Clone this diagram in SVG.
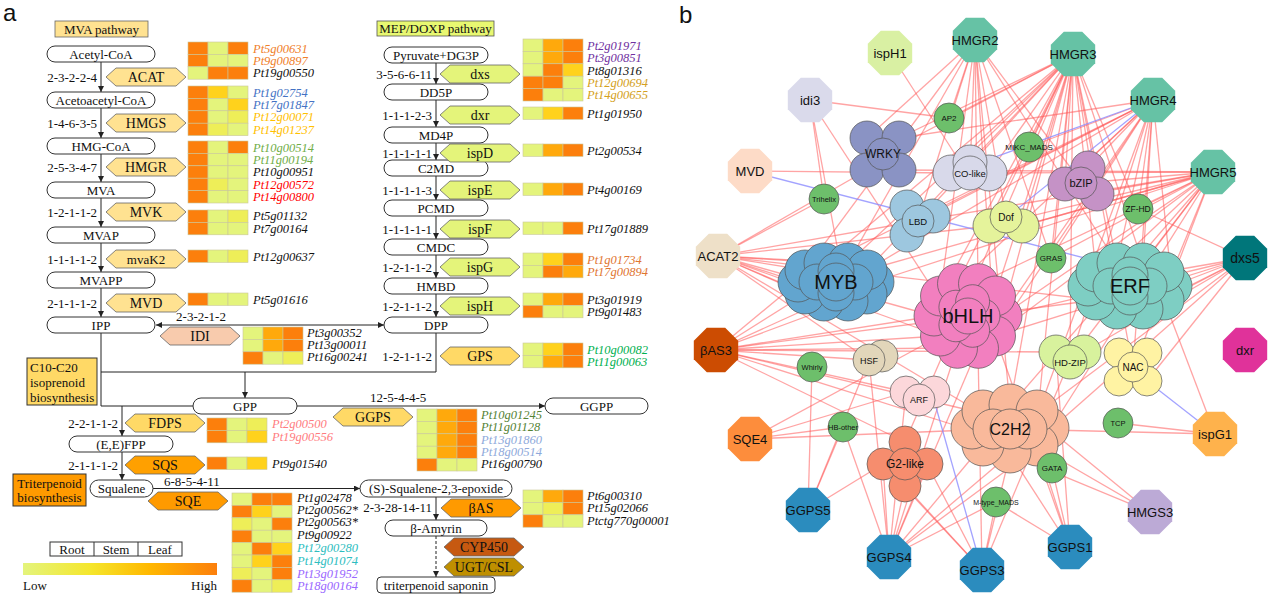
<svg xmlns="http://www.w3.org/2000/svg" xmlns:xlink="http://www.w3.org/1999/xlink" width="1269" height="597" viewBox="0 0 1269 597">
<style>
.t{font-family:"Liberation Serif",serif;font-size:13px;fill:#111}
.tm{text-anchor:middle}
.te{text-anchor:end}
.hxt{font-size:14px}
.g{font-family:"Liberation Serif",serif;font-size:12.5px;font-style:italic;fill:#111}
.bx{fill:#fff;stroke:#333;stroke-width:1}
.ln{stroke:#222;stroke-width:1;fill:none}
.hx{stroke:#666;stroke-width:.8}
.hm rect{stroke:#c9c79a;stroke-width:.6;width:20px;height:12.4px}
.k0{fill:#E4F47C}.k1{fill:#EEEE58}.k2{fill:#FFD21C}.k3{fill:#FFA90C}.k4{fill:#FC7F0C}
.n{font-family:"Liberation Sans",Arial,sans-serif;text-anchor:middle;fill:#111;font-size:13px}
.s7{font-size:7px}.s75{font-size:7.5px}.s8{font-size:8px}.s85{font-size:8.5px}.s9{font-size:9px}.s95{font-size:9.5px}.s10{font-size:10px}.s11{font-size:11px}.s12{font-size:12px}.s14{font-size:14px}.s16{font-size:16px}.s20{font-size:20px}
.tf{stroke:#555;stroke-width:.7}
.gr{fill:#6DBF6B}
.e line{stroke:#FF5A5A;stroke-opacity:.55;stroke-width:1.3}
.e line.b{stroke:#8C8CFF;stroke-opacity:.8}
</style>
<defs>
<marker id="ar" markerWidth="6" markerHeight="6" refX="6" refY="3" orient="auto-start-reverse" markerUnits="userSpaceOnUse"><path d="M0,0 L6,3 L0,6 z" fill="#222"/></marker>
<polygon id="hex" points="0,9 10,0 70,0 80,9 70,18 10,18"/>
<polygon id="oct" points="-9.2,-22.2 9.2,-22.2 22.2,-9.2 22.2,9.2 9.2,22.2 -9.2,22.2 -22.2,9.2 -22.2,-9.2"/>
<linearGradient id="lg"><stop offset="0" stop-color="#E4F47C"/><stop offset=".35" stop-color="#F5E62C"/><stop offset=".65" stop-color="#FFB800"/><stop offset="1" stop-color="#FC7F0C"/></linearGradient>
</defs>
<rect width="1269" height="597" fill="#fff"/>
<text x="3" y="21" font-family="Liberation Sans,Arial,sans-serif" font-size="24" fill="#111">a</text>
<text x="679" y="23" font-family="Liberation Sans,Arial,sans-serif" font-size="24" fill="#111">b</text>

<!-- ===== Panel a connectors ===== -->
<g id="a-connectors" class="ln">
<line x1="101" y1="62" x2="101" y2="92" marker-end="url(#ar)"/>
<line x1="101" y1="108" x2="101" y2="138" marker-end="url(#ar)"/>
<line x1="101" y1="154" x2="101" y2="182" marker-end="url(#ar)"/>
<line x1="101" y1="198" x2="101" y2="227" marker-end="url(#ar)"/>
<line x1="101" y1="243" x2="101" y2="272" marker-end="url(#ar)"/>
<line x1="101" y1="288" x2="101" y2="317" marker-end="url(#ar)"/>
<line x1="436" y1="63" x2="436" y2="84" marker-end="url(#ar)"/>
<line x1="436" y1="100" x2="436" y2="127" marker-end="url(#ar)"/>
<line x1="436" y1="143" x2="436" y2="160" marker-end="url(#ar)"/>
<line x1="436" y1="176" x2="436" y2="200" marker-end="url(#ar)"/>
<line x1="436" y1="216" x2="436" y2="239" marker-end="url(#ar)"/>
<line x1="436" y1="255" x2="436" y2="278" marker-end="url(#ar)"/>
<line x1="436" y1="294" x2="436" y2="317" marker-end="url(#ar)"/>
<line x1="156" y1="325" x2="384" y2="325" marker-start="url(#ar)" marker-end="url(#ar)"/>
<polyline points="101,333 101,406 193,406"/>
<polyline points="101,372 436,372 436,333"/>
<line x1="245" y1="372" x2="245" y2="398" marker-end="url(#ar)"/>
<line x1="297" y1="406" x2="545" y2="406" marker-end="url(#ar)"/>
<line x1="122" y1="406" x2="122" y2="436" marker-end="url(#ar)"/>
<line x1="122" y1="452" x2="122" y2="480" marker-end="url(#ar)"/>
<line x1="153" y1="488.5" x2="360" y2="488.5" marker-end="url(#ar)"/>
<line x1="436" y1="497" x2="436" y2="520" marker-end="url(#ar)"/>
<line x1="436" y1="536" x2="436" y2="577" stroke-dasharray="3,2" marker-end="url(#ar)"/>
</g>

<g id="a-counts" class="t">
<text x="97" y="81.5" class="te">2-3-2-2-4</text>
<text x="97" y="127.5" class="te">1-4-6-3-5</text>
<text x="97" y="171.5" class="te">2-5-3-4-7</text>
<text x="97" y="216.5" class="te">1-2-1-1-2</text>
<text x="97" y="263.5" class="te">1-1-1-1-2</text>
<text x="97" y="307.5" class="te">2-1-1-1-2</text>
<text x="432" y="78.5" class="te">3-5-6-6-11</text>
<text x="432" y="119.5" class="te">1-1-1-2-3</text>
<text x="432" y="157.5" class="te">1-1-1-1-1</text>
<text x="432" y="194.5" class="te">1-1-1-1-3</text>
<text x="432" y="233.5" class="te">1-1-1-1-1</text>
<text x="432" y="271.5" class="te">1-2-1-1-2</text>
<text x="432" y="310.5" class="te">1-2-1-1-2</text>
<text x="432" y="360.5" class="te">1-2-1-1-2</text>
<text x="201" y="321" class="tm">2-3-2-1-2</text>
<text x="118" y="427.5" class="te">2-2-1-1-2</text>
<text x="118" y="469.5" class="te">2-1-1-1-2</text>
<text x="164" y="486">6-8-5-4-11</text>
<text x="370" y="402">12-5-4-4-5</text>
<text x="432" y="512" class="te">2-3-28-14-11</text>
</g>

<g id="mva-header"><rect x="55" y="21" width="93" height="16" fill="#FFE291" stroke="#666" stroke-width=".8"/><text x="101.5" y="33.5" class="t tm">MVA pathway</text></g>
<g id="mep-header"><rect x="377" y="21" width="117" height="15" fill="#E8F871" stroke="#555" stroke-width=".8"/><text x="435.5" y="33" class="t tm">MEP/DOXP pathway</text></g>
<g id="c10-box"><rect x="27" y="358" width="70" height="47" fill="#FFD966" stroke="#333" stroke-width="1"/><text x="30" y="372" class="t">C10-C20</text><text x="30" y="387" class="t">isoprenoid</text><text x="30" y="401.5" class="t">biosynthesis</text></g>
<g id="tri-box"><rect x="13" y="474" width="73" height="32" fill="#FF9A00" stroke="#333" stroke-width="1"/><text x="49.5" y="487.5" class="t tm">Triterpenoid</text><text x="49.5" y="502" class="t tm">biosynthesis</text></g>

<g id="m-acetylcoa"><rect x="47" y="46" width="108" height="16" rx="8" class="bx"/><text x="101" y="58.5" class="t tm">Acetyl-CoA</text></g>
<g id="m-acetoacetylcoa"><rect x="47" y="92" width="108" height="16" rx="8" class="bx"/><text x="101" y="104.5" class="t tm">Acetoacetyl-CoA</text></g>
<g id="m-hmgcoa"><rect x="47" y="138" width="108" height="16" rx="8" class="bx"/><text x="101" y="150.5" class="t tm">HMG-CoA</text></g>
<g id="m-mva"><rect x="47" y="182" width="108" height="16" rx="8" class="bx"/><text x="101" y="194.5" class="t tm">MVA</text></g>
<g id="m-mvap"><rect x="47" y="227" width="108" height="16" rx="8" class="bx"/><text x="101" y="239.5" class="t tm">MVAP</text></g>
<g id="m-mvapp"><rect x="47" y="272" width="108" height="16" rx="8" class="bx"/><text x="101" y="284.5" class="t tm">MVAPP</text></g>
<g id="m-ipp"><rect x="47" y="317" width="108" height="16" rx="8" class="bx"/><text x="101" y="329.5" class="t tm">IPP</text></g>
<g id="m-pyruvate"><rect x="384" y="47" width="104" height="16" rx="8" class="bx"/><text x="436" y="59.5" class="t tm">Pyruvate+DG3P</text></g>
<g id="m-dd5p"><rect x="384" y="84" width="104" height="16" rx="8" class="bx"/><text x="436" y="96.5" class="t tm">DD5P</text></g>
<g id="m-md4p"><rect x="384" y="127" width="104" height="16" rx="8" class="bx"/><text x="436" y="139.5" class="t tm">MD4P</text></g>
<g id="m-c2md"><rect x="384" y="160" width="104" height="16" rx="8" class="bx"/><text x="436" y="172.5" class="t tm">C2MD</text></g>
<g id="m-pcmd"><rect x="384" y="200" width="104" height="16" rx="8" class="bx"/><text x="436" y="212.5" class="t tm">PCMD</text></g>
<g id="m-cmdc"><rect x="384" y="239" width="104" height="16" rx="8" class="bx"/><text x="436" y="251.5" class="t tm">CMDC</text></g>
<g id="m-hmbd"><rect x="384" y="278" width="104" height="16" rx="8" class="bx"/><text x="436" y="290.5" class="t tm">HMBD</text></g>
<g id="m-dpp"><rect x="384" y="317" width="104" height="16" rx="8" class="bx"/><text x="436" y="329.5" class="t tm">DPP</text></g>
<g id="m-gpp"><rect x="193" y="398" width="104" height="16" rx="8" class="bx"/><text x="245" y="410.5" class="t tm">GPP</text></g>
<g id="m-ggpp"><rect x="545" y="398" width="103" height="16" rx="8" class="bx"/><text x="596.5" y="410.5" class="t tm">GGPP</text></g>
<g id="m-fpp"><rect x="69" y="436" width="104" height="16" rx="8" class="bx"/><text x="121" y="448.5" class="t tm">(E,E)FPP</text></g>
<g id="m-squalene"><rect x="90" y="480" width="63" height="17" rx="8.5" class="bx"/><text x="121.5" y="493" class="t tm">Squalene</text></g>
<g id="m-epoxide"><rect x="360" y="480" width="152" height="17" rx="8.5" class="bx"/><text x="436" y="493" class="t tm">(S)-Squalene-2,3-epoxide</text></g>
<g id="m-amyrin"><rect x="385" y="520" width="102" height="16" rx="8" class="bx"/><text x="436" y="532.5" class="t tm">β-Amyrin</text></g>
<g id="m-saponin"><rect x="377" y="577" width="118" height="16" rx="4" class="bx"/><text x="436" y="589.5" class="t tm">triterpenoid saponin</text></g>

<g id="e-acat"><use xlink:href="#hex" x="106" y="68" fill="#FFE291" class="hx"/><text x="146" y="82" class="t tm hxt">ACAT</text></g>
<g id="e-hmgs"><use xlink:href="#hex" x="106" y="114" fill="#FFE291" class="hx"/><text x="146" y="128" class="t tm hxt">HMGS</text></g>
<g id="e-hmgr"><use xlink:href="#hex" x="106" y="158" fill="#FFE291" class="hx"/><text x="146" y="172" class="t tm hxt">HMGR</text></g>
<g id="e-mvk"><use xlink:href="#hex" x="106" y="203" fill="#FFE291" class="hx"/><text x="146" y="217" class="t tm hxt">MVK</text></g>
<g id="e-mvak2"><use xlink:href="#hex" x="106" y="250" fill="#FFE291" class="hx"/><text x="146" y="264" class="t tm">mvaK2</text></g>
<g id="e-mvd"><use xlink:href="#hex" x="106" y="294" fill="#FFE291" class="hx"/><text x="146" y="308" class="t tm hxt">MVD</text></g>
<g id="e-dxs"><use xlink:href="#hex" x="440" y="65" fill="#E4F47A" class="hx"/><text x="480" y="79" class="t tm hxt">dxs</text></g>
<g id="e-dxr"><use xlink:href="#hex" x="440" y="106" fill="#E4F47A" class="hx"/><text x="480" y="120" class="t tm hxt">dxr</text></g>
<g id="e-ispd"><use xlink:href="#hex" x="440" y="144" fill="#E4F47A" class="hx"/><text x="480" y="158" class="t tm hxt">ispD</text></g>
<g id="e-ispe"><use xlink:href="#hex" x="440" y="181" fill="#E4F47A" class="hx"/><text x="480" y="195" class="t tm hxt">ispE</text></g>
<g id="e-ispf"><use xlink:href="#hex" x="440" y="220" fill="#E4F47A" class="hx"/><text x="480" y="234" class="t tm hxt">ispF</text></g>
<g id="e-ispg"><use xlink:href="#hex" x="440" y="258" fill="#E4F47A" class="hx"/><text x="480" y="272" class="t tm hxt">ispG</text></g>
<g id="e-isph"><use xlink:href="#hex" x="440" y="297" fill="#E4F47A" class="hx"/><text x="480" y="311" class="t tm hxt">ispH</text></g>
<g id="e-gps"><use xlink:href="#hex" x="440" y="347" fill="#FFD966" class="hx"/><text x="480" y="361" class="t tm hxt">GPS</text></g>
<g id="e-idi"><use xlink:href="#hex" x="160" y="327" fill="#F8CBAD" class="hx"/><text x="200" y="341" class="t tm hxt">IDI</text></g>
<g id="e-fdps"><use xlink:href="#hex" x="125" y="414" fill="#FFD966" class="hx"/><text x="165" y="428" class="t tm hxt">FDPS</text></g>
<g id="e-sqs"><use xlink:href="#hex" x="125" y="456" fill="#FFA000" class="hx"/><text x="165" y="470" class="t tm hxt">SQS</text></g>
<g id="e-ggps"><use xlink:href="#hex" x="333" y="408" fill="#FFD966" class="hx"/><text x="373" y="422" class="t tm hxt">GGPS</text></g>
<g id="e-sqe"><use xlink:href="#hex" x="148" y="492" fill="#FF9A00" class="hx"/><text x="188" y="506" class="t tm hxt">SQE</text></g>
<g id="e-bas"><use xlink:href="#hex" x="441" y="499" fill="#FF9A00" class="hx"/><text x="481" y="513" class="t tm hxt">βAS</text></g>
<g id="e-cyp450"><use xlink:href="#hex" x="444" y="538" fill="#C65911" class="hx"/><text x="484" y="552" class="t tm hxt">CYP450</text></g>
<g id="e-ugt"><use xlink:href="#hex" x="444" y="558" fill="#BF8F00" class="hx"/><text x="484" y="572" class="t tm hxt">UGT/CSL</text></g>

<g id="hm-acat" class="hm" transform="translate(188,42)">
<rect x="0" y="0" class="k4"/><rect x="20" y="0" class="k0"/><rect x="40" y="0" class="k4"/>
<rect x="0" y="12.4" class="k4"/><rect x="20" y="12.4" class="k0"/><rect x="40" y="12.4" class="k0"/>
<rect x="0" y="24.8" class="k0"/><rect x="20" y="24.8" class="k4"/><rect x="40" y="24.8" class="k4"/>
</g>
<g id="hm-hmgs" class="hm" transform="translate(188,86)">
<rect x="0" y="0" class="k4"/><rect x="20" y="0" class="k2"/><rect x="40" y="0" class="k0"/>
<rect x="0" y="12.4" class="k4"/><rect x="20" y="12.4" class="k0"/><rect x="40" y="12.4" class="k2"/>
<rect x="0" y="24.8" class="k4"/><rect x="20" y="24.8" class="k0"/><rect x="40" y="24.8" class="k1"/>
<rect x="0" y="37.2" class="k4"/><rect x="20" y="37.2" class="k1"/><rect x="40" y="37.2" class="k0"/>
</g>
<g id="hm-hmgr" class="hm" transform="translate(188,141)">
<rect x="0" y="0" class="k4"/><rect x="20" y="0" class="k0"/><rect x="40" y="0" class="k4"/>
<rect x="0" y="12.4" class="k4"/><rect x="20" y="12.4" class="k0"/><rect x="40" y="12.4" class="k0"/>
<rect x="0" y="24.8" class="k4"/><rect x="20" y="24.8" class="k0"/><rect x="40" y="24.8" class="k0"/>
<rect x="0" y="37.2" class="k4"/><rect x="20" y="37.2" class="k1"/><rect x="40" y="37.2" class="k0"/>
<rect x="0" y="49.6" class="k4"/><rect x="20" y="49.6" class="k0"/><rect x="40" y="49.6" class="k0"/>
</g>
<g id="hm-mvk" class="hm" transform="translate(188,210)">
<rect x="0" y="0" class="k4"/><rect x="20" y="0" class="k0"/><rect x="40" y="0" class="k1"/>
<rect x="0" y="12.4" class="k4"/><rect x="20" y="12.4" class="k0"/><rect x="40" y="12.4" class="k0"/>
</g>
<g id="hm-mvak2" class="hm" transform="translate(188,250)">
<rect x="0" y="0" class="k4"/><rect x="20" y="0" class="k0"/><rect x="40" y="0" class="k1"/>
</g>
<g id="hm-mvd" class="hm" transform="translate(188,293)">
<rect x="0" y="0" class="k4"/><rect x="20" y="0" class="k0"/><rect x="40" y="0" class="k0"/>
</g>
<g id="hm-dxs" class="hm" transform="translate(523,39)">
<rect x="0" y="0" class="k0"/><rect x="20" y="0" class="k3"/><rect x="40" y="0" class="k4"/>
<rect x="0" y="12.4" class="k0"/><rect x="20" y="12.4" class="k3"/><rect x="40" y="12.4" class="k4"/>
<rect x="0" y="24.8" class="k0"/><rect x="20" y="24.8" class="k4"/><rect x="40" y="24.8" class="k2"/>
<rect x="0" y="37.2" class="k4"/><rect x="20" y="37.2" class="k4"/><rect x="40" y="37.2" class="k0"/>
<rect x="0" y="49.6" class="k4"/><rect x="20" y="49.6" class="k0"/><rect x="40" y="49.6" class="k0"/>
</g>
<g id="hm-dxr" class="hm" transform="translate(523,107)">
<rect x="0" y="0" class="k0"/><rect x="20" y="0" class="k2"/><rect x="40" y="0" class="k4"/>
</g>
<g id="hm-ispd" class="hm" transform="translate(523,144)">
<rect x="0" y="0" class="k0"/><rect x="20" y="0" class="k3"/><rect x="40" y="0" class="k4"/>
</g>
<g id="hm-ispe" class="hm" transform="translate(523,183)">
<rect x="0" y="0" class="k0"/><rect x="20" y="0" class="k3"/><rect x="40" y="0" class="k4"/>
</g>
<g id="hm-ispf" class="hm" transform="translate(523,222)">
<rect x="0" y="0" class="k0"/><rect x="20" y="0" class="k0"/><rect x="40" y="0" class="k4"/>
</g>
<g id="hm-ispg" class="hm" transform="translate(523,253)">
<rect x="0" y="0" class="k0"/><rect x="20" y="0" class="k2"/><rect x="40" y="0" class="k4"/>
<rect x="0" y="12.4" class="k0"/><rect x="20" y="12.4" class="k4"/><rect x="40" y="12.4" class="k3"/>
</g>
<g id="hm-isph" class="hm" transform="translate(523,293)">
<rect x="0" y="0" class="k0"/><rect x="20" y="0" class="k3"/><rect x="40" y="0" class="k4"/>
<rect x="0" y="12.4" class="k4"/><rect x="20" y="12.4" class="k0"/><rect x="40" y="12.4" class="k0"/>
</g>
<g id="hm-gps" class="hm" transform="translate(523,343)">
<rect x="0" y="0" class="k0"/><rect x="20" y="0" class="k2"/><rect x="40" y="0" class="k4"/>
<rect x="0" y="12.4" class="k0"/><rect x="20" y="12.4" class="k3"/><rect x="40" y="12.4" class="k4"/>
</g>
<g id="hm-idi" class="hm" transform="translate(243,327)">
<rect x="0" y="0" class="k0"/><rect x="20" y="0" class="k3"/><rect x="40" y="0" class="k4"/>
<rect x="0" y="12.4" class="k0"/><rect x="20" y="12.4" class="k3"/><rect x="40" y="12.4" class="k4"/>
<rect x="0" y="24.8" class="k4"/><rect x="20" y="24.8" class="k0"/><rect x="40" y="24.8" class="k1"/>
</g>
<g id="hm-fdps" class="hm" transform="translate(207,418)">
<rect x="0" y="0" class="k4"/><rect x="20" y="0" class="k0"/><rect x="40" y="0" class="k1"/>
<rect x="0" y="12.4" class="k4"/><rect x="20" y="12.4" class="k0"/><rect x="40" y="12.4" class="k2"/>
</g>
<g id="hm-sqs" class="hm" transform="translate(207,457)">
<rect x="0" y="0" class="k4"/><rect x="20" y="0" class="k0"/><rect x="40" y="0" class="k2"/>
</g>
<g id="hm-ggps" class="hm" transform="translate(417,409)">
<rect x="0" y="0" class="k0"/><rect x="20" y="0" class="k3"/><rect x="40" y="0" class="k4"/>
<rect x="0" y="12.4" class="k0"/><rect x="20" y="12.4" class="k3"/><rect x="40" y="12.4" class="k4"/>
<rect x="0" y="24.8" class="k0"/><rect x="20" y="24.8" class="k3"/><rect x="40" y="24.8" class="k4"/>
<rect x="0" y="37.2" class="k0"/><rect x="20" y="37.2" class="k3"/><rect x="40" y="37.2" class="k4"/>
<rect x="0" y="49.6" class="k4"/><rect x="20" y="49.6" class="k0"/><rect x="40" y="49.6" class="k0"/>
</g>
<g id="hm-sqe" class="hm" transform="translate(232,493)">
<rect x="0" y="0" class="k0"/><rect x="20" y="0" class="k4"/><rect x="40" y="0" class="k4"/>
<rect x="0" y="12.4" class="k4"/><rect x="20" y="12.4" class="k2"/><rect x="40" y="12.4" class="k0"/>
<rect x="0" y="24.8" class="k1"/><rect x="20" y="24.8" class="k0"/><rect x="40" y="24.8" class="k4"/>
<rect x="0" y="37.2" class="k4"/><rect x="20" y="37.2" class="k0"/><rect x="40" y="37.2" class="k0"/>
<rect x="0" y="49.6" class="k0"/><rect x="20" y="49.6" class="k4"/><rect x="40" y="49.6" class="k2"/>
<rect x="0" y="62" class="k0"/><rect x="20" y="62" class="k2"/><rect x="40" y="62" class="k4"/>
<rect x="0" y="74.4" class="k1"/><rect x="20" y="74.4" class="k0"/><rect x="40" y="74.4" class="k4"/>
<rect x="0" y="86.8" class="k4"/><rect x="20" y="86.8" class="k0"/><rect x="40" y="86.8" class="k1"/>
</g>
<g id="hm-bas" class="hm" transform="translate(523,490)">
<rect x="0" y="0" class="k0"/><rect x="20" y="0" class="k3"/><rect x="40" y="0" class="k4"/>
<rect x="0" y="12.4" class="k0"/><rect x="20" y="12.4" class="k1"/><rect x="40" y="12.4" class="k4"/>
<rect x="0" y="24.8" class="k4"/><rect x="20" y="24.8" class="k0"/><rect x="40" y="24.8" class="k0"/>
</g>

<g id="genes" class="g">
<text x="253" y="52.5" fill="#F0802A">Pt5g00631</text>
<text x="253" y="64.5" fill="#F0802A">Pt9g00897</text>
<text x="253" y="77">Pt19g00550</text>
<text x="253" y="96.5" fill="#4472C4">Pt1g02754</text>
<text x="253" y="108.5" fill="#4472C4">Pt17g01847</text>
<text x="253" y="121" fill="#FFC000">Pt12g00071</text>
<text x="253" y="133.5" fill="#FFC000">Pt14g01237</text>
<text x="253" y="151.5" fill="#70AD47">Pt10g00514</text>
<text x="253" y="163.5" fill="#70AD47">Pt11g00194</text>
<text x="253" y="176">Pt10g00951</text>
<text x="253" y="188.5" fill="#FF0000">Pt12g00572</text>
<text x="253" y="201" fill="#FF0000">Pt14g00800</text>
<text x="253" y="220">Pt5g01132</text>
<text x="253" y="232.5">Pt7g00164</text>
<text x="253" y="260.5">Pt12g00637</text>
<text x="253" y="303.5">Pt5g01616</text>
<text x="587" y="49.5" fill="#7030A0">Pt2g01971</text>
<text x="587" y="62" fill="#7030A0">Pt3g00851</text>
<text x="587" y="74.5">Pt8g01316</text>
<text x="587" y="86.5" fill="#D4A020">Pt12g00694</text>
<text x="587" y="99" fill="#D4A020">Pt14g00655</text>
<text x="587" y="117.5">Pt1g01950</text>
<text x="587" y="154.5">Pt2g00534</text>
<text x="587" y="193.5">Pt4g00169</text>
<text x="587" y="232.5">Pt17g01889</text>
<text x="587" y="263.5" fill="#DF7530">Pt1g01734</text>
<text x="587" y="276" fill="#DF7530">Pt17g00894</text>
<text x="587" y="303.5">Pt3g01919</text>
<text x="587" y="316">Pt9g01483</text>
<text x="587" y="353.5" fill="#00B050">Pt10g00082</text>
<text x="587" y="366" fill="#00B050">Pt11g00063</text>
<text x="307" y="337">Pt3g00352</text>
<text x="307" y="349">Pt13g00011</text>
<text x="307" y="361">Pt16g00241</text>
<text x="272" y="428" fill="#FF7C80">Pt2g00500</text>
<text x="272" y="440.5" fill="#FF7C80">Pt19g00556</text>
<text x="272" y="468">Pt9g01540</text>
<text x="481" y="418.5" fill="#548235">Pt10g01245</text>
<text x="481" y="431" fill="#548235">Pt11g01128</text>
<text x="481" y="443.5" fill="#8EA9DB">Pt13g01860</text>
<text x="481" y="455.5" fill="#8EA9DB">Pt18g00514</text>
<text x="481" y="467.5">Pt16g00790</text>
<text x="297" y="501.5">Pt1g02478</text>
<text x="297" y="513.5">Pt2g00562*</text>
<text x="297" y="526">Pt2g00563*</text>
<text x="297" y="539">Pt9g00922</text>
<text x="297" y="552" fill="#2DBDC0">Pt12g00280</text>
<text x="297" y="565" fill="#2DBDC0">Pt14g01074</text>
<text x="297" y="577.5" fill="#9966FF">Pt13g01952</text>
<text x="297" y="590" fill="#9966FF">Pt18g00164</text>
<text x="587" y="500">Pt6g00310</text>
<text x="587" y="512">Pt15g02066</text>
<text x="587" y="524.5">Ptctg770g00001</text>
</g>

<g id="legend">
<rect x="50" y="542" width="132" height="14" fill="#fff" stroke="#333" stroke-width="1"/>
<line x1="94" y1="542" x2="94" y2="556" stroke="#333"/>
<line x1="138" y1="542" x2="138" y2="556" stroke="#333"/>
<text x="72" y="553.5" class="t tm">Root</text>
<text x="116" y="553.5" class="t tm">Stem</text>
<text x="160" y="553.5" class="t tm">Leaf</text>
<rect x="23" y="563" width="194" height="12" fill="url(#lg)"/>
<text x="23" y="590" class="t">Low</text>
<text x="217" y="590" class="t te">High</text>
</g>

<!-- ===== Panel b edges ===== -->
<g id="b-edges" class="e">
<line x1="1073" y1="54" x2="883" y2="154"/><line x1="1073" y1="54" x2="899" y2="138"/><line x1="1073" y1="54" x2="951" y2="173"/><line x1="1073" y1="54" x2="989" y2="173"/><line x1="1073" y1="54" x2="949" y2="118"/><line x1="1073" y1="54" x2="1029" y2="147"/><line x1="1073" y1="54" x2="1065" y2="182"/><line x1="1073" y1="54" x2="1095" y2="193"/><line x1="1073" y1="54" x2="918" y2="221"/><line x1="1073" y1="54" x2="990" y2="226"/><line x1="1073" y1="54" x2="1022" y2="226"/><line x1="1073" y1="54" x2="1138" y2="209"/><line x1="1073" y1="54" x2="1051" y2="258"/><line x1="1073" y1="54" x2="824" y2="263"/><line x1="1073" y1="54" x2="848" y2="263"/><line x1="1073" y1="54" x2="867" y2="270"/><line x1="1073" y1="54" x2="940" y2="296"/><line x1="1073" y1="54" x2="957" y2="284"/><line x1="1073" y1="54" x2="995" y2="296"/><line x1="1073" y1="54" x2="1002" y2="316"/><line x1="1073" y1="54" x2="1096" y2="272"/><line x1="1073" y1="54" x2="1117" y2="263"/><line x1="1073" y1="54" x2="1143" y2="263"/><line x1="1073" y1="54" x2="1070" y2="360"/><line x1="1073" y1="54" x2="1133" y2="367"/><line x1="1073" y1="54" x2="1010" y2="406"/><line x1="1073" y1="54" x2="1038" y2="413"/><line x1="1073" y1="54" x2="905" y2="442"/>
<line x1="975" y1="40" x2="867" y2="138"/><line x1="975" y1="40" x2="970" y2="173"/><line x1="975" y1="40" x2="918" y2="221"/><line x1="975" y1="40" x2="1006" y2="218"/><line x1="975" y1="40" x2="1082" y2="183"/><line x1="975" y1="40" x2="805" y2="270"/><line x1="975" y1="40" x2="848" y2="263"/><line x1="975" y1="40" x2="940" y2="296"/><line x1="975" y1="40" x2="978" y2="284"/><line x1="975" y1="40" x2="995" y2="336"/><line x1="975" y1="40" x2="1117" y2="263"/><line x1="975" y1="40" x2="1010" y2="406"/><line x1="975" y1="40" x2="1051" y2="258"/><line x1="975" y1="40" x2="949" y2="118"/>
<line x1="1153" y1="100" x2="899" y2="138"/><line x1="1153" y1="100" x2="1065" y2="182"/><line x1="1153" y1="100" x2="1088" y2="168"/><line x1="1153" y1="100" x2="1138" y2="209"/><line x1="1153" y1="100" x2="1051" y2="258"/><line x1="1153" y1="100" x2="867" y2="270"/><line x1="1153" y1="100" x2="824" y2="263"/><line x1="1153" y1="100" x2="957" y2="284"/><line x1="1153" y1="100" x2="1002" y2="316"/><line x1="1153" y1="100" x2="995" y2="336"/><line x1="1153" y1="100" x2="1117" y2="263"/><line x1="1153" y1="100" x2="1143" y2="263"/><line x1="1153" y1="100" x2="1172" y2="286"/><line x1="1153" y1="100" x2="1070" y2="360"/><line x1="1153" y1="100" x2="1133" y2="367"/><line x1="1153" y1="100" x2="1038" y2="413"/><line x1="1153" y1="100" x2="918" y2="221"/><line x1="1153" y1="100" x2="1029" y2="147"/><line x1="1153" y1="100" x2="930" y2="213"/>
<line class="b" x1="1153" y1="100" x2="951" y2="173"/><line class="b" x1="1153" y1="100" x2="1006" y2="218"/>
<line x1="1213" y1="172" x2="1082" y2="183"/><line x1="1213" y1="172" x2="1095" y2="193"/><line x1="1213" y1="172" x2="1138" y2="209"/><line x1="1213" y1="172" x2="1022" y2="226"/><line x1="1213" y1="172" x2="990" y2="226"/><line x1="1213" y1="172" x2="918" y2="221"/><line x1="1213" y1="172" x2="989" y2="173"/><line x1="1213" y1="172" x2="867" y2="270"/><line x1="1213" y1="172" x2="874" y2="282"/><line x1="1213" y1="172" x2="978" y2="284"/><line x1="1213" y1="172" x2="1002" y2="316"/><line x1="1213" y1="172" x2="978" y2="348"/><line x1="1213" y1="172" x2="1051" y2="258"/><line x1="1213" y1="172" x2="1117" y2="263"/><line x1="1213" y1="172" x2="1143" y2="263"/><line x1="1213" y1="172" x2="1164" y2="300"/><line x1="1213" y1="172" x2="1070" y2="360"/><line x1="1213" y1="172" x2="1133" y2="367"/><line x1="1213" y1="172" x2="1050" y2="430"/><line x1="1213" y1="172" x2="1010" y2="406"/><line x1="1213" y1="172" x2="899" y2="170"/>
<line x1="1245" y1="258" x2="1172" y2="286"/><line x1="1245" y1="258" x2="1164" y2="300"/><line x1="1245" y1="258" x2="1143" y2="309"/><line x1="1245" y1="258" x2="1164" y2="272"/><line x1="1245" y1="258" x2="1138" y2="209"/><line x1="1245" y1="258" x2="1002" y2="316"/><line x1="1245" y1="258" x2="995" y2="336"/><line x1="1245" y1="258" x2="1038" y2="413"/><line x1="1245" y1="258" x2="1070" y2="360"/><line x1="1245" y1="258" x2="1147" y2="381"/><line x1="1245" y1="258" x2="1050" y2="430"/>
<line x1="718" y1="256" x2="824" y2="199"/><line x1="718" y1="256" x2="798" y2="282"/><line x1="718" y1="256" x2="805" y2="270"/><line x1="718" y1="256" x2="824" y2="263"/><line x1="718" y1="256" x2="848" y2="263"/><line x1="718" y1="256" x2="805" y2="294"/><line x1="718" y1="256" x2="824" y2="301"/><line x1="718" y1="256" x2="934" y2="316"/><line x1="718" y1="256" x2="940" y2="336"/><line x1="718" y1="256" x2="918" y2="221"/><line x1="718" y1="256" x2="867" y2="170"/><line x1="718" y1="256" x2="1096" y2="300"/><line x1="718" y1="256" x2="869" y2="360"/><line x1="718" y1="256" x2="981" y2="413"/><line x1="718" y1="256" x2="990" y2="226"/>
<line x1="716" y1="350" x2="798" y2="282"/><line x1="716" y1="350" x2="805" y2="294"/><line x1="716" y1="350" x2="824" y2="301"/><line x1="716" y1="350" x2="848" y2="301"/><line x1="716" y1="350" x2="934" y2="316"/><line x1="716" y1="350" x2="940" y2="336"/><line x1="716" y1="350" x2="957" y2="348"/><line x1="716" y1="350" x2="869" y2="360"/><line x1="716" y1="350" x2="906" y2="392"/><line x1="716" y1="350" x2="981" y2="413"/><line x1="716" y1="350" x2="970" y2="430"/><line x1="716" y1="350" x2="1096" y2="300"/><line x1="716" y1="350" x2="905" y2="442"/><line x1="716" y1="350" x2="1056" y2="352"/>
<line x1="750" y1="439" x2="843" y2="427"/><line x1="750" y1="439" x2="970" y2="430"/><line x1="750" y1="439" x2="906" y2="392"/><line x1="750" y1="439" x2="940" y2="336"/>
<line x1="808" y1="510" x2="812" y2="367"/><line x1="808" y1="510" x2="843" y2="427"/><line x1="808" y1="510" x2="869" y2="360"/><line x1="808" y1="510" x2="883" y2="464"/>
<line x1="889" y1="557" x2="843" y2="427"/><line x1="889" y1="557" x2="883" y2="464"/><line x1="889" y1="557" x2="905" y2="486"/><line x1="889" y1="557" x2="927" y2="464"/><line x1="889" y1="557" x2="869" y2="360"/><line x1="889" y1="557" x2="906" y2="392"/><line x1="889" y1="557" x2="957" y2="348"/><line x1="889" y1="557" x2="978" y2="348"/><line x1="889" y1="557" x2="981" y2="447"/><line x1="889" y1="557" x2="1010" y2="454"/><line x1="889" y1="557" x2="996" y2="502"/><line x1="889" y1="557" x2="1038" y2="447"/>
<line class="b" x1="982" y1="570" x2="934" y2="400"/>
<line x1="982" y1="570" x2="905" y2="486"/><line x1="982" y1="570" x2="927" y2="464"/><line x1="982" y1="570" x2="1010" y2="454"/><line x1="982" y1="570" x2="996" y2="502"/><line x1="982" y1="570" x2="978" y2="348"/><line x1="982" y1="570" x2="1070" y2="360"/><line x1="982" y1="570" x2="883" y2="464"/>
<line x1="1070" y1="547" x2="1038" y2="447"/><line x1="1070" y1="547" x2="1052" y2="468"/><line x1="1070" y1="547" x2="996" y2="502"/><line x1="1070" y1="547" x2="995" y2="336"/><line x1="1070" y1="547" x2="1056" y2="352"/><line x1="1070" y1="547" x2="1010" y2="454"/>
<line x1="1150" y1="512" x2="1038" y2="447"/><line x1="1150" y1="512" x2="1050" y2="430"/><line x1="1150" y1="512" x2="1010" y2="454"/>
<line x1="1215" y1="434" x2="1118" y2="423"/><line x1="1215" y1="434" x2="1050" y2="430"/><line x1="1215" y1="434" x2="1164" y2="300"/>
<line class="b" x1="1215" y1="434" x2="1147" y2="381"/>
<line x1="890" y1="53" x2="962" y2="165"/>
<line x1="810" y1="100" x2="949" y2="118"/><line x1="810" y1="100" x2="824" y2="199"/><line x1="810" y1="100" x2="840" y2="262"/><line x1="810" y1="100" x2="940" y2="300"/>
<line x1="750" y1="171" x2="951" y2="173"/>
<line class="b" x1="760" y1="174" x2="1100" y2="262"/>
</g>

<!-- ===== Panel b nodes: genes ===== -->
<g id="n-ispH1"><use xlink:href="#oct" x="890" y="53" fill="#D9F0A3"/><text x="890" y="57.5" class="n">ispH1</text></g>
<g id="n-HMGR2"><use xlink:href="#oct" x="975" y="40" fill="#66C2A5"/><text x="975" y="44.5" class="n">HMGR2</text></g>
<g id="n-HMGR3"><use xlink:href="#oct" x="1073" y="54" fill="#66C2A5"/><text x="1073" y="58.5" class="n">HMGR3</text></g>
<g id="n-HMGR4"><use xlink:href="#oct" x="1153" y="100" fill="#66C2A5"/><text x="1153" y="104.5" class="n">HMGR4</text></g>
<g id="n-HMGR5"><use xlink:href="#oct" x="1213" y="172" fill="#66C2A5"/><text x="1213" y="176.5" class="n">HMGR5</text></g>
<g id="n-dxs5"><use xlink:href="#oct" x="1245" y="258" fill="#00767A"/><text x="1245" y="263" class="n s14">dxs5</text></g>
<g id="n-idi3"><use xlink:href="#oct" x="810" y="100" fill="#DADAEB"/><text x="810" y="104.5" class="n">idi3</text></g>
<g id="n-MVD"><use xlink:href="#oct" x="750" y="171" fill="#FDDBC7"/><text x="750" y="175.5" class="n">MVD</text></g>
<g id="n-ACAT2"><use xlink:href="#oct" x="718" y="256" fill="#EEE0C8"/><text x="718" y="260.5" class="n">ACAT2</text></g>
<g id="n-bAS3"><use xlink:href="#oct" x="716" y="350" fill="#CC4C02"/><text x="716" y="354.5" class="n">βAS3</text></g>
<g id="n-SQE4"><use xlink:href="#oct" x="750" y="439" fill="#FD8D3C"/><text x="750" y="443.5" class="n">SQE4</text></g>
<g id="n-GGPS5"><use xlink:href="#oct" x="808" y="510" fill="#2B8CBE"/><text x="808" y="514.5" class="n">GGPS5</text></g>
<g id="n-GGPS4"><use xlink:href="#oct" x="889" y="557" fill="#2B8CBE"/><text x="889" y="561.5" class="n">GGPS4</text></g>
<g id="n-GGPS3"><use xlink:href="#oct" x="982" y="570" fill="#2B8CBE"/><text x="982" y="574.5" class="n">GGPS3</text></g>
<g id="n-GGPS1"><use xlink:href="#oct" x="1070" y="547" fill="#2B8CBE"/><text x="1070" y="551.5" class="n">GGPS1</text></g>
<g id="n-HMGS3"><use xlink:href="#oct" x="1150" y="512" fill="#BCAAD6"/><text x="1150" y="516.5" class="n">HMGS3</text></g>
<g id="n-ispG1"><use xlink:href="#oct" x="1215" y="434" fill="#FEB24C"/><text x="1215" y="438.5" class="n">ispG1</text></g>
<g id="n-dxr"><use xlink:href="#oct" x="1245" y="350" fill="#E0329A"/><text x="1245" y="354.5" class="n">dxr</text></g>

<!-- ===== Panel b nodes: TF families ===== -->
<g id="n-WRKY" fill="#8A93C4"><circle cx="867" cy="138" r="17" class="tf"/><circle cx="899" cy="138" r="17" class="tf"/><circle cx="867" cy="170" r="17" class="tf"/><circle cx="899" cy="170" r="17" class="tf"/><circle cx="883" cy="154" r="16" class="tf"/><text x="883" y="158" class="n s12">WRKY</text></g>
<g id="n-CO-like" fill="#D8D9EA"><circle cx="951" cy="173" r="18" class="tf"/><circle cx="989" cy="173" r="18" class="tf"/><circle cx="970" cy="162" r="17" class="tf"/><circle cx="970" cy="173" r="17" class="tf"/><text x="970" y="176.5" class="n s95">CO-like</text></g>
<g id="n-bZIP" fill="#C592C6"><circle cx="1065" cy="184" r="17" class="tf"/><circle cx="1088" cy="168" r="17" class="tf"/><circle cx="1097" cy="194" r="17" class="tf"/><circle cx="1081" cy="183" r="16" class="tf"/><text x="1081" y="187" class="n s11">bZIP</text></g>
<g id="n-LBD" fill="#9DC7DF"><circle cx="907" cy="207" r="17" class="tf"/><circle cx="933" cy="216" r="17" class="tf"/><circle cx="907" cy="235" r="17" class="tf"/><circle cx="918" cy="221" r="16" class="tf"/><text x="918" y="224.5" class="n s95">LBD</text></g>
<g id="n-Dof" fill="#E5F39B"><circle cx="990" cy="226" r="17" class="tf"/><circle cx="1022" cy="226" r="17" class="tf"/><circle cx="1006" cy="217" r="16" class="tf"/><text x="1006" y="220.5" class="n s10">Dof</text></g>

<g id="n-MYB" fill="#62A5CF">
<circle cx="874" cy="282" r="20" class="tf"/><circle cx="867" cy="294" r="20" class="tf"/><circle cx="848" cy="301" r="20" class="tf"/><circle cx="824" cy="301" r="20" class="tf"/><circle cx="805" cy="294" r="20" class="tf"/><circle cx="798" cy="282" r="20" class="tf"/><circle cx="805" cy="270" r="20" class="tf"/><circle cx="824" cy="263" r="20" class="tf"/><circle cx="848" cy="263" r="20" class="tf"/><circle cx="867" cy="270" r="20" class="tf"/>
<circle cx="817" cy="282" r="18" class="tf"/><circle cx="855" cy="282" r="18" class="tf"/><circle cx="836" cy="271" r="18" class="tf"/><circle cx="836" cy="293" r="18" class="tf"/><circle cx="836" cy="282" r="19" class="tf"/>
<text x="836" y="289" class="n s20">MYB</text></g>

<g id="n-bHLH" fill="#F27FBF">
<circle cx="1002" cy="316" r="20" class="tf"/><circle cx="995.5" cy="336" r="20" class="tf"/><circle cx="978.5" cy="348.3" r="20" class="tf"/><circle cx="957.5" cy="348.3" r="20" class="tf"/><circle cx="940.5" cy="336" r="20" class="tf"/><circle cx="934" cy="316" r="20" class="tf"/><circle cx="940.5" cy="296" r="20" class="tf"/><circle cx="957.5" cy="283.7" r="20" class="tf"/><circle cx="978.5" cy="283.7" r="20" class="tf"/><circle cx="995.5" cy="296" r="20" class="tf"/>
<circle cx="983" cy="316" r="17" class="tf"/><circle cx="972.6" cy="330.3" r="17" class="tf"/><circle cx="955.9" cy="324.8" r="17" class="tf"/><circle cx="955.9" cy="307.2" r="17" class="tf"/><circle cx="972.6" cy="301.7" r="17" class="tf"/><circle cx="968" cy="316" r="18" class="tf"/>
<text x="968" y="323" class="n s20">bHLH</text></g>

<g id="n-ERF" fill="#7ECEC3">
<circle cx="1172" cy="286" r="20" class="tf"/><circle cx="1164" cy="300" r="20" class="tf"/><circle cx="1143" cy="309" r="20" class="tf"/><circle cx="1117" cy="309" r="20" class="tf"/><circle cx="1096" cy="300" r="20" class="tf"/><circle cx="1088" cy="286" r="20" class="tf"/><circle cx="1096" cy="272" r="20" class="tf"/><circle cx="1117" cy="263" r="20" class="tf"/><circle cx="1143" cy="263" r="20" class="tf"/><circle cx="1164" cy="272" r="20" class="tf"/>
<circle cx="1111" cy="286" r="18" class="tf"/><circle cx="1149" cy="286" r="18" class="tf"/><circle cx="1130" cy="275" r="18" class="tf"/><circle cx="1130" cy="297" r="18" class="tf"/><circle cx="1130" cy="286" r="19" class="tf"/>
<text x="1130" y="293" class="n s20">ERF</text></g>

<g id="n-HSF" fill="#E2D6BA"><circle cx="882" cy="356" r="16" class="tf"/><circle cx="869" cy="360" r="16" class="tf"/><text x="869" y="363.5" class="n s9">HSF</text></g>
<g id="n-ARF" fill="#FCD7DA"><circle cx="906" cy="392" r="16" class="tf"/><circle cx="934" cy="392" r="16" class="tf"/><circle cx="919" cy="400" r="16" class="tf"/><text x="919" y="403" class="n s9">ARF</text></g>
<g id="n-HD-ZIP" fill="#D8F29D"><circle cx="1056" cy="352" r="17" class="tf"/><circle cx="1084" cy="352" r="17" class="tf"/><circle cx="1070" cy="362" r="17" class="tf"/><text x="1070" y="365.5" class="n s95">HD-ZIP</text></g>
<g id="n-NAC" fill="#FFF3A3"><circle cx="1119" cy="353" r="15" class="tf"/><circle cx="1147" cy="353" r="15" class="tf"/><circle cx="1119" cy="381" r="15" class="tf"/><circle cx="1147" cy="381" r="15" class="tf"/><circle cx="1133" cy="367" r="15" class="tf"/><text x="1133" y="370.5" class="n s10">NAC</text></g>

<g id="n-C2H2" fill="#F9B99B">
<circle cx="1048" cy="428" r="21" class="tf"/><circle cx="1037" cy="445" r="21" class="tf"/><circle cx="1010" cy="452" r="21" class="tf"/><circle cx="983" cy="445" r="21" class="tf"/><circle cx="972" cy="428" r="21" class="tf"/><circle cx="983" cy="411" r="21" class="tf"/><circle cx="1010" cy="405" r="21" class="tf"/><circle cx="1037" cy="411" r="21" class="tf"/>
<circle cx="993" cy="429" r="20" class="tf"/><circle cx="1027" cy="429" r="20" class="tf"/><circle cx="1010" cy="429" r="20" class="tf"/>
<text x="1010" y="435" class="n s16">C2H2</text></g>

<g id="n-G2-like" fill="#F68D6E"><circle cx="905" cy="442" r="16" class="tf"/><circle cx="883" cy="464" r="16" class="tf"/><circle cx="927" cy="464" r="16" class="tf"/><circle cx="905" cy="486" r="16" class="tf"/><circle cx="905" cy="464" r="16" class="tf"/><text x="905" y="468" class="n s12">G2-like</text></g>

<g id="n-AP2"><circle cx="949" cy="118" r="15" class="tf gr"/><text x="949" y="121" class="n s8">AP2</text></g>
<g id="n-MIKC_MADS"><circle cx="1029" cy="147" r="15" class="tf gr"/><text x="1029" y="150" class="n s8">MIKC_MADS</text></g>
<g id="n-Trihelix"><circle cx="824" cy="199" r="15" class="tf gr"/><text x="824" y="202" class="n s75">Trihelix</text></g>
<g id="n-ZF-HD"><circle cx="1138" cy="209" r="15" class="tf gr"/><text x="1138" y="212" class="n s85">ZF-HD</text></g>
<g id="n-GRAS"><circle cx="1051" cy="258" r="15" class="tf gr"/><text x="1051" y="261" class="n s8">GRAS</text></g>
<g id="n-Whirly"><circle cx="812" cy="367" r="15" class="tf gr"/><text x="812" y="370" class="n s75">Whirly</text></g>
<g id="n-HB-other"><circle cx="843" cy="427" r="15" class="tf gr"/><text x="843" y="430" class="n s75">HB-other</text></g>
<g id="n-TCP"><circle cx="1118" cy="423" r="15" class="tf gr"/><text x="1118" y="426" class="n s75">TCP</text></g>
<g id="n-GATA"><circle cx="1052" cy="468" r="15" class="tf gr"/><text x="1052" y="471" class="n s8">GATA</text></g>
<g id="n-M-type_MADS"><circle cx="996" cy="502" r="15" class="tf gr"/><text x="996" y="505" class="n s7">M-type_MADS</text></g>
</svg>
